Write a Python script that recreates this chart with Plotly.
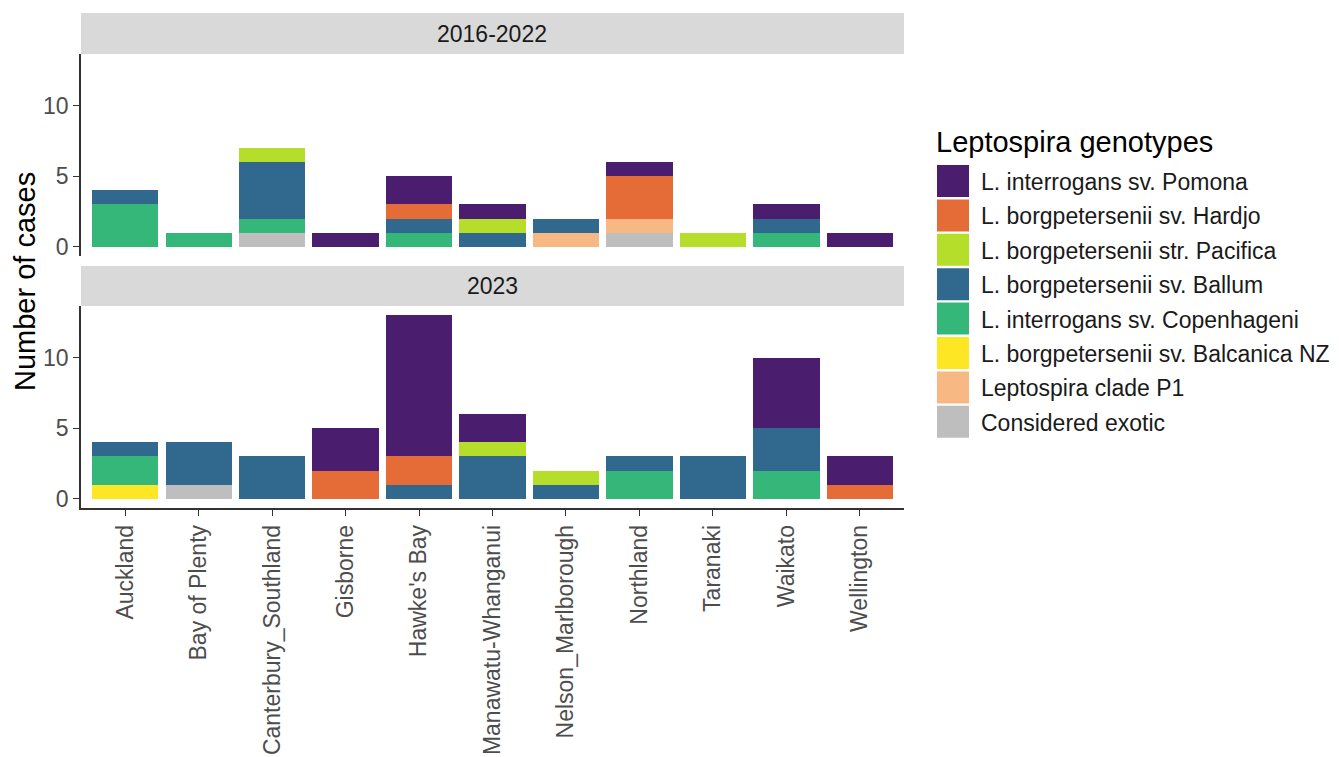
import plotly.graph_objects as go

W, H = 1339, 757

regions = ["Auckland", "Bay of Plenty", "Canterbury_Southland", "Gisborne", "Hawke's Bay",
           "Manawatu-Whanganui", "Nelson_Marlborough", "Northland", "Taranaki", "Waikato", "Wellington"]

periods = ["2016-2022", "2023"]

genotypes = ["L. interrogans sv. Pomona", "L. borgpetersenii sv. Hardjo",
             "L. borgpetersenii str. Pacifica", "L. borgpetersenii sv. Ballum",
             "L. interrogans sv. Copenhageni", "L. borgpetersenii sv. Balcanica NZ",
             "Leptospira clade P1", "Considered exotic"]

colors = ["#4a1d6f", "#e66c37", "#b5de2b", "#31688e", "#35b779", "#fde725", "#f8b884", "#bebebe"]

# 2016-2022 counts
pomona_a = [0, 0, 0, 1, 2, 1, 0, 1, 0, 1, 1]
hardjo_a = [0, 0, 0, 0, 1, 0, 0, 3, 0, 0, 0]
pacifica_a = [0, 0, 1, 0, 0, 1, 0, 0, 1, 0, 0]
ballum_a = [1, 0, 4, 0, 1, 1, 1, 0, 0, 1, 0]
copenhageni_a = [3, 1, 1, 0, 1, 0, 0, 0, 0, 1, 0]
balcanica_a = [0, 0, 0, 0, 0, 0, 0, 0, 0, 0, 0]
p1_a = [0, 0, 0, 0, 0, 0, 1, 1, 0, 0, 0]
exotic_a = [0, 0, 1, 0, 0, 0, 0, 1, 0, 0, 0]

# 2023 counts
pomona_b = [0, 0, 0, 3, 10, 2, 0, 0, 0, 5, 2]
hardjo_b = [0, 0, 0, 2, 2, 0, 0, 0, 0, 0, 1]
pacifica_b = [0, 0, 0, 0, 0, 1, 1, 0, 0, 0, 0]
ballum_b = [1, 3, 3, 0, 1, 3, 1, 1, 3, 3, 0]
copenhageni_b = [2, 0, 0, 0, 0, 0, 0, 2, 0, 2, 0]
balcanica_b = [1, 0, 0, 0, 0, 0, 0, 0, 0, 0, 0]
p1_b = [0, 0, 0, 0, 0, 0, 0, 0, 0, 0, 0]
exotic_b = [0, 1, 0, 0, 0, 0, 0, 0, 0, 0, 0]

y_ticks = [0, 5, 10]

series_a = [pomona_a, hardjo_a, pacifica_a, ballum_a, copenhageni_a, balcanica_a, p1_a, exotic_a]
series_b = [pomona_b, hardjo_b, pacifica_b, ballum_b, copenhageni_b, balcanica_b, p1_b, exotic_b]

def px_x(p):
    return p / W

def px_y(p):
    return 1 - p / H

FONT = "Liberation Sans, Arial, sans-serif"
SMALL = 23
BIG = 29

fig = go.Figure()

# stack bottom-to-top: last genotype first
for idx in reversed(range(len(genotypes))):
    fig.add_trace(go.Bar(x=regions, y=series_a[idx], name=genotypes[idx],
                         marker=dict(color=colors[idx], line=dict(width=0)),
                         width=0.9, xaxis="x", yaxis="y", showlegend=False))
    fig.add_trace(go.Bar(x=regions, y=series_b[idx], name=genotypes[idx],
                         marker=dict(color=colors[idx], line=dict(width=0)),
                         width=0.9, xaxis="x2", yaxis="y2", showlegend=False))

panel_x0, panel_x1 = 81, 904
top_y0, top_y1 = 54, 256
bot_y0, bot_y1 = 306, 508
yr = [-0.65, 13.65]
tickfont = dict(family=FONT, size=SMALL, color="#4d4d4d")

fig.update_layout(
    width=W, height=H,
    margin=dict(l=0, r=0, t=0, b=0),
    paper_bgcolor="white", plot_bgcolor="white",
    barmode="stack", bargap=0.1,
    font=dict(family=FONT, color="#1a1a1a"),
    xaxis=dict(domain=[px_x(panel_x0), px_x(panel_x1)], anchor="y", range=[-0.6, 10.6],
               showticklabels=False, ticks="", showline=False, showgrid=False, zeroline=False,
               automargin=False, fixedrange=True),
    yaxis=dict(domain=[px_y(top_y1), px_y(top_y0)], anchor="x", range=yr,
               tickvals=y_ticks, ticks="outside", ticklen=6, tickwidth=1.2, tickcolor="#333333",
               showline=True, linecolor="#333333", linewidth=1.5, showgrid=False, zeroline=False,
               tickfont=tickfont, automargin=False),
    xaxis2=dict(domain=[px_x(panel_x0), px_x(panel_x1)], anchor="y2", range=[-0.6, 10.6],
                tickangle=-90, ticks="outside", ticklen=6, tickwidth=1.2, tickcolor="#333333",
                showline=True, linecolor="#333333", linewidth=1.5, showgrid=False, zeroline=False,
                tickfont=tickfont, automargin=False),
    yaxis2=dict(domain=[px_y(bot_y1), px_y(bot_y0)], anchor="x2", range=yr,
                tickvals=y_ticks, ticks="outside", ticklen=6, tickwidth=1.2, tickcolor="#333333",
                showline=True, linecolor="#333333", linewidth=1.5, showgrid=False, zeroline=False,
                tickfont=tickfont, automargin=False),
)

shapes = []
annotations = []

# facet strips
strips = [(13, 54, periods[0]), (266, 306, periods[1])]
for y0, y1, label in strips:
    shapes.append(dict(type="rect", xref="paper", yref="paper",
                       x0=px_x(panel_x0), x1=px_x(panel_x1), y0=px_y(y1), y1=px_y(y0),
                       fillcolor="#d9d9d9", line=dict(width=0), layer="below"))
    annotations.append(dict(text=label, xref="paper", yref="paper",
                            x=px_x((panel_x0 + panel_x1) / 2), y=px_y((y0 + y1) / 2),
                            showarrow=False, xanchor="center", yanchor="middle",
                            font=dict(size=SMALL, color="#1a1a1a")))

# y axis title
annotations.append(dict(text="Number of cases", xref="paper", yref="paper",
                        x=px_x(25), y=px_y(282), textangle=-90, showarrow=False,
                        xanchor="center", yanchor="middle",
                        font=dict(size=BIG, color="#000000")))

# legend
annotations.append(dict(text="Leptospira genotypes", xref="paper", yref="paper",
                        x=px_x(934), y=px_y(142), showarrow=False,
                        xanchor="left", yanchor="middle",
                        font=dict(size=BIG, color="#000000")))
key_top = 165
step = 34.4
for i, (g, c) in enumerate(zip(genotypes, colors)):
    y0 = key_top + i * step
    shapes.append(dict(type="rect", xref="paper", yref="paper",
                       x0=px_x(937), x1=px_x(969), y0=px_y(y0 + 32), y1=px_y(y0),
                       fillcolor=c, line=dict(width=0)))
    annotations.append(dict(text=g, xref="paper", yref="paper",
                            x=px_x(979), y=px_y(y0 + 17), showarrow=False,
                            xanchor="left", yanchor="middle",
                            font=dict(size=SMALL, color="#1a1a1a")))

fig.update_layout(shapes=shapes, annotations=annotations)

fig.write_html("out.html")
